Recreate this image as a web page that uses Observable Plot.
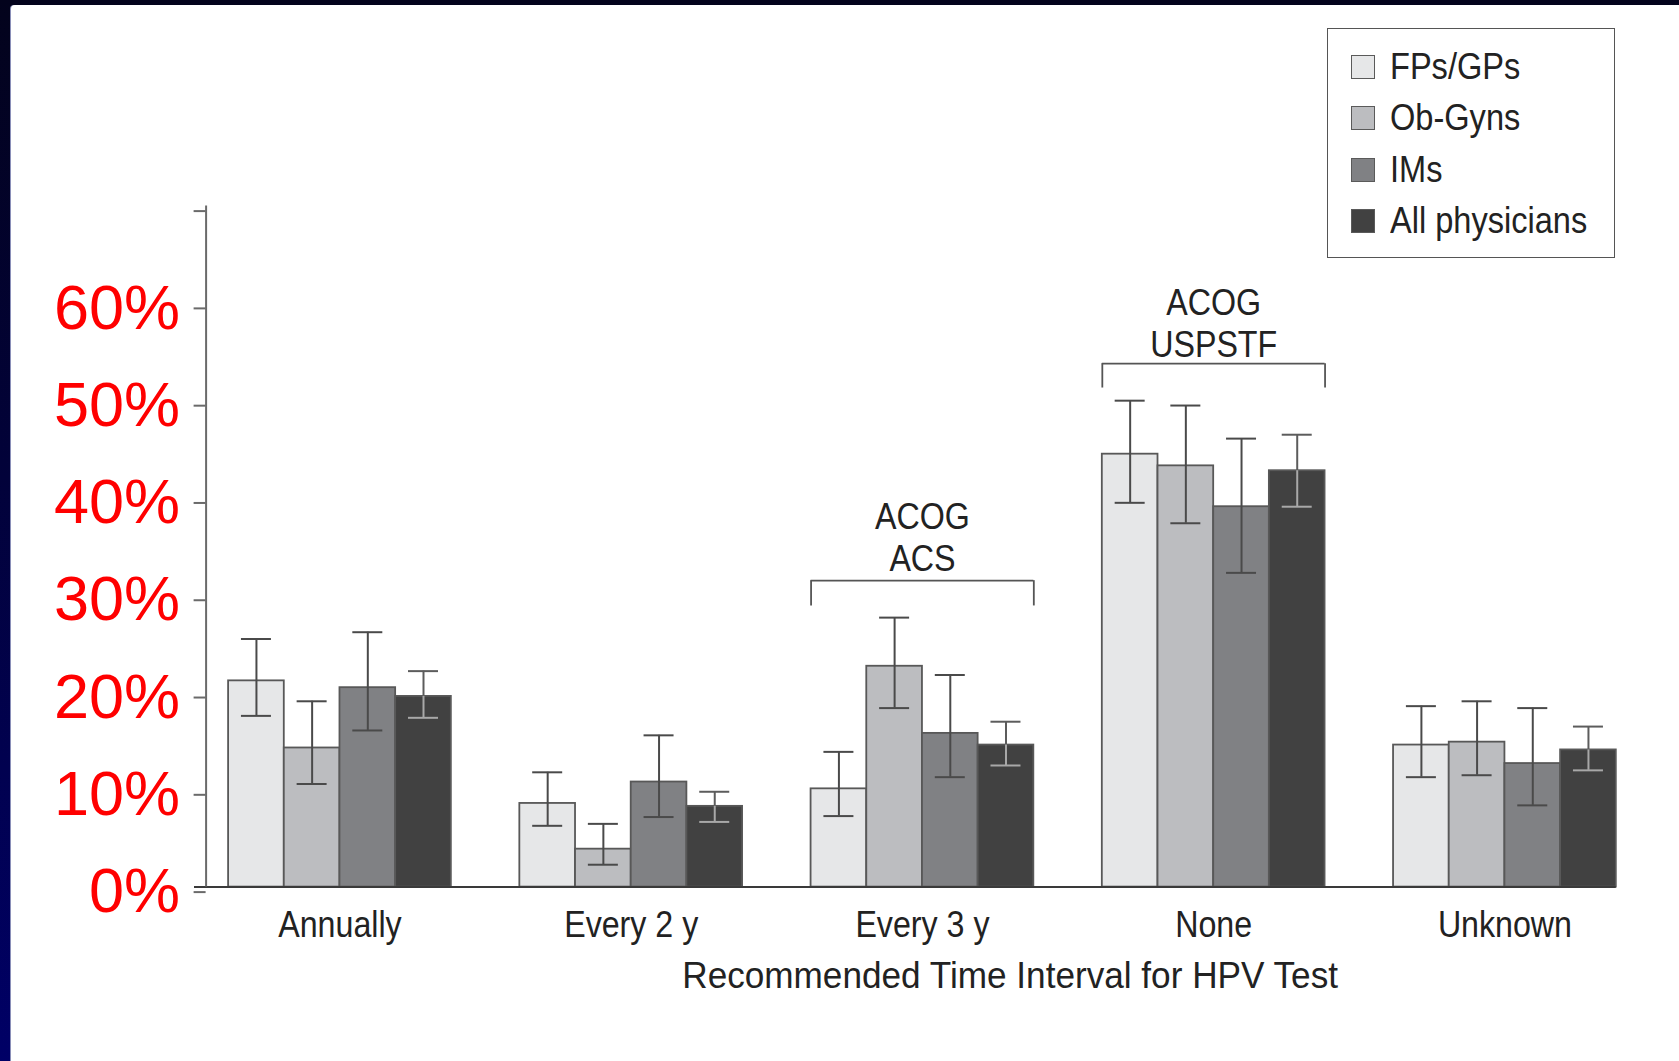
<!DOCTYPE html>
<html>
<head>
<meta charset="utf-8">
<script src="https://cdn.jsdelivr.net/npm/d3@7"></script>
<script src="https://cdn.jsdelivr.net/npm/@observablehq/plot@0.6"></script>
<style>
  html, body { margin: 0; padding: 0; width: 1679px; height: 1061px; overflow: hidden; }
  body { background: linear-gradient(#03031c, #02023a 45%, #000066); position: relative; }
  #panel { position: absolute; left: 11px; top: 5px; right: 0; bottom: 0; background: #fff;
           border-top-left-radius: 4px; box-shadow: -1px 0 0 #8a8fb8; }
  #chart { position: absolute; left: 0; top: 0; }
  .narrow { font-family: "Liberation Sans", Arial, sans-serif; color: #222; }
  #xtitle { position: absolute; left: 0; width: 2020px; top: 957px; text-align: center; font-size: 37px; line-height: 1; white-space: nowrap; }
  #xtitle span { display: inline-block; transform: scaleX(0.95); transform-origin: center center; }
  #legend { position: absolute; left: 1327px; top: 28px; width: 288px; height: 230px; border: 1.5px solid #555; box-sizing: border-box; background: #fff; }
  .item { position: absolute; left: 23px; height: 40px; display: flex; align-items: center; font-size: 37px; white-space: nowrap; }
  .item span { display: inline-block; transform: scaleX(0.88); transform-origin: left center; }
  .sw { width: 24px; height: 24px; border: 1.8px solid #5a5a5a; margin-right: 15px; box-sizing: border-box; flex: none; }
</style>
</head>
<body>
<div id="panel"></div>
<div id="chart"></div>
<div id="xtitle" class="narrow"><span></span></div>
<div id="legend" class="narrow"></div>
<script>
// ---- data ----
const categories = ["Annually", "Every 2 y", "Every 3 y", "None", "Unknown"];
const seriesNames = ["FPs/GPs", "Ob-Gyns", "IMs", "All physicians"];
const seriesColors = ["#e6e7e8", "#bcbdc0", "#808184", "#414141"];

const fpsValues = [21.2, 8.6, 10.1, 44.5, 14.6];
const fpsLow    = [17.6, 6.3, 7.3, 39.5, 11.3];
const fpsHigh   = [25.5, 11.8, 13.9, 50.0, 18.6];

const obValues  = [14.3, 3.9, 22.7, 43.3, 14.9];
const obLow     = [10.6, 2.3, 18.4, 37.4, 11.5];
const obHigh    = [19.1, 6.5, 27.7, 49.5, 19.1];

const imValues  = [20.5, 10.8, 15.8, 39.1, 12.7];
const imLow     = [16.1, 7.2, 11.3, 32.3, 8.4];
const imHigh    = [26.2, 15.6, 21.8, 46.1, 18.4];

const allValues = [19.6, 8.3, 14.6, 42.8, 14.1];
const allLow    = [17.4, 6.7, 12.5, 39.1, 12.0];
const allHigh   = [22.2, 9.8, 17.0, 46.5, 16.5];

const yTicks = [0, 10, 20, 30, 40, 50, 60, 70];
const yTickLabels = ["0%", "10%", "20%", "30%", "40%", "50%", "60%", ""];

const bracketCategories = ["Every 3 y", "None"];
const bracketLabels = ["ACOG\nACS", "ACOG\nUSPSTF"];
const bracketTop = [31.5, 53.8];
const bracketBottom = [28.9, 51.3];
const bracketLabelY = [36.0, 58.0];

const xTitle = "Recommended Time Interval for HPV Test";

// ---- tables ----
const seriesData = [
  [fpsValues, fpsLow, fpsHigh],
  [obValues, obLow, obHigh],
  [imValues, imLow, imHigh],
  [allValues, allLow, allHigh]
];
const rows = [];
categories.forEach((c, ci) => {
  seriesNames.forEach((s, si) => {
    const [v, lo, hi] = seriesData[si];
    rows.push({category: c, series: s, value: v[ci], low: lo[ci], high: hi[ci]});
  });
});
const brackets = bracketCategories.map((c, i) => ({
  category: c, label: bracketLabels[i], top: bracketTop[i], bottom: bracketBottom[i], labelY: bracketLabelY[i]
}));

// ---- layout ----
const FONT = '"Liberation Sans", Arial, sans-serif';
const W = 1679, H = 1000;
const mL = 228.1, mR = W - 1615.8, mT = 205.6, mB = H - 886.6;
const fxPad = 68.5 / 291.25;
const fxRange = W - mL - mR;
const fxBand = fxRange / (categories.length - fxPad) * (1 - fxPad);
const xBand = fxBand / seriesNames.length;
const axisX = 205.6;              // y-axis line position
const axisOffset = axisX - mL;    // relative to first facet
const capInset = (xBand - 30) / 2;
const ink = "#4a4a4a";

const isAll = d => d.series === "All physicians";
const notAll = d => d.series !== "All physicians";

const chart = Plot.plot({
  width: W, height: H,
  marginLeft: mL, marginRight: mR, marginTop: mT, marginBottom: mB,
  style: {background: "transparent", fontFamily: FONT, fontSize: "37px", color: "#222", overflow: "visible"},
  fx: {domain: categories, paddingInner: fxPad, paddingOuter: 0, round: false, label: null},
  x: {domain: seriesNames, padding: 0, round: false, axis: null},
  y: {domain: [0, 70]},
  color: {domain: seriesNames, range: seriesColors},
  marks: [
    Plot.barY(rows, {fx: "category", x: "series", y: "value", fill: "series", stroke: "#585858", strokeWidth: 1.8}),
    // error bars (non "All")
    Plot.ruleX(rows.filter(notAll), {fx: "category", x: "series", y1: "low", y2: "high", stroke: ink, strokeWidth: 2}),
    Plot.tickY(rows.filter(notAll), {fx: "category", x: "series", y: "high", stroke: ink, strokeWidth: 2, insetLeft: capInset, insetRight: capInset}),
    Plot.tickY(rows.filter(notAll), {fx: "category", x: "series", y: "low", stroke: ink, strokeWidth: 2, insetLeft: capInset, insetRight: capInset}),
    // error bars on the dark "All physicians" bars
    Plot.ruleX(rows.filter(isAll), {fx: "category", x: "series", y1: "value", y2: "high", stroke: "#5c5c5c", strokeWidth: 2}),
    Plot.tickY(rows.filter(isAll), {fx: "category", x: "series", y: "high", stroke: "#5c5c5c", strokeWidth: 2, insetLeft: capInset, insetRight: capInset}),
    Plot.ruleX(rows.filter(isAll), {fx: "category", x: "series", y1: "low", y2: "value", stroke: "#a8a8a8", strokeWidth: 2}),
    Plot.tickY(rows.filter(isAll), {fx: "category", x: "series", y: "low", stroke: "#a8a8a8", strokeWidth: 2, insetLeft: capInset, insetRight: capInset}),
    // baseline across all groups
    Plot.ruleY([categories[0]], {fx: d => d, y: () => 0, stroke: "#3a3a3a", strokeWidth: 2,
      insetLeft: -(mL - 194), insetRight: -(fxRange - fxBand)}),
    // y-axis line
    Plot.ruleX([categories[0]], {fx: d => d, x: () => seriesNames[0], y1: () => 0, y2: () => 70,
      dx: -(xBand / 2) + axisOffset, stroke: "#6a6a6a", strokeWidth: 2}),
    Plot.axisY({ticks: yTicks, tickFormat: (d) => yTickLabels[yTicks.indexOf(d)], tickSize: 12, tickPadding: 14,
      dx: axisOffset, stroke: "#6a6a6a", strokeWidth: 2, fill: "#ff0000", fontSize: 63,
      fontFamily: '"Liberation Sans", Arial, sans-serif', dy: 5, label: null}),
    Plot.axisFx({anchor: "bottom", tickSize: 0, tickPadding: 24, label: null, fill: "#222", fontSize: 37}),
    // brackets and their labels
    Plot.ruleY(brackets, {fx: "category", y: "top", stroke: "#555", strokeWidth: 1.8}),
    Plot.ruleX(brackets, {fx: "category", x: () => seriesNames[0], y1: "bottom", y2: "top", dx: -xBand / 2, stroke: "#555", strokeWidth: 1.8}),
    Plot.ruleX(brackets, {fx: "category", x: () => seriesNames[seriesNames.length - 1], y1: "bottom", y2: "top", dx: xBand / 2, stroke: "#555", strokeWidth: 1.8}),
    Plot.text(brackets, {fx: "category", y: "labelY", text: "label", lineHeight: 1.12, fill: "#222", fontSize: 37})
  ]
});
document.getElementById("chart").appendChild(chart);

// emulate the condensed typeface of the original for the grey texts
d3.select(chart)
  .selectAll('g[aria-label="fx-axis tick label"] text, g[aria-label="text"] text')
  .each(function () {
    const t = this.getAttribute("transform") || "";
    this.setAttribute("transform", (t + " scale(0.87,1)").trim());
  });

document.querySelector("#xtitle span").textContent = xTitle;

const legend = document.getElementById("legend");
const rowTops = [18, 69, 121, 172];
seriesNames.forEach((s, i) => {
  const item = document.createElement("div");
  item.className = "item";
  item.style.top = rowTops[i] + "px";
  const sw = document.createElement("div");
  sw.className = "sw";
  sw.style.background = seriesColors[i];
  const t = document.createElement("span");
  t.textContent = s;
  item.appendChild(sw);
  item.appendChild(t);
  legend.appendChild(item);
});
</script>
</body>
</html>
